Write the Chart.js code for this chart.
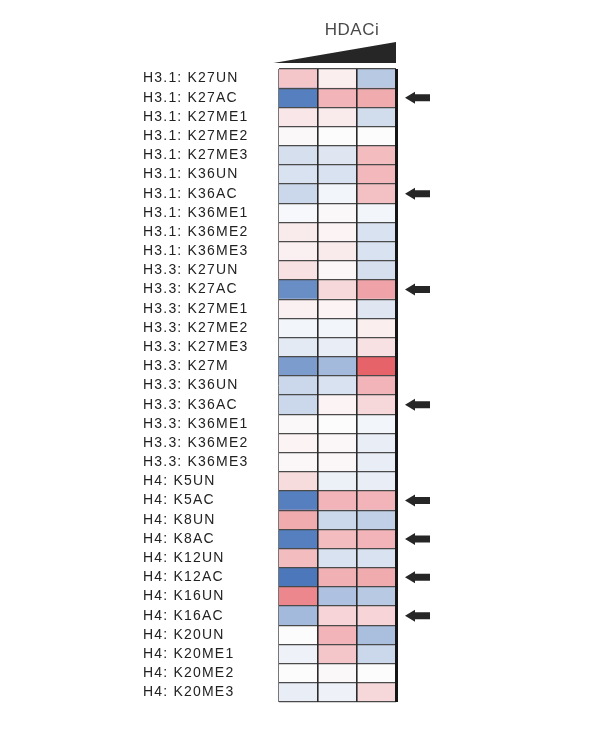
<!DOCTYPE html>
<html>
<head>
<meta charset="utf-8">
<script src="https://cdn.jsdelivr.net/npm/chart.js@4.4.1/dist/chart.umd.min.js"></script>
<style>
  html, body { margin: 0; padding: 0; background: #fff; }
  #wrap { width: 600px; height: 754px; }
</style>
</head>
<body>
<div id="wrap"><canvas id="heatmap"></canvas></div>
<script>
// linhas do heatmap (de cima para baixo)
const marcas = [
  'H3.1: K27UN', 'H3.1: K27AC', 'H3.1: K27ME1', 'H3.1: K27ME2', 'H3.1: K27ME3',
  'H3.1: K36UN', 'H3.1: K36AC', 'H3.1: K36ME1', 'H3.1: K36ME2', 'H3.1: K36ME3',
  'H3.3: K27UN', 'H3.3: K27AC', 'H3.3: K27ME1', 'H3.3: K27ME2', 'H3.3: K27ME3',
  'H3.3: K27M', 'H3.3: K36UN', 'H3.3: K36AC', 'H3.3: K36ME1', 'H3.3: K36ME2',
  'H3.3: K36ME3',
  'H4: K5UN', 'H4: K5AC', 'H4: K8UN', 'H4: K8AC', 'H4: K12UN', 'H4: K12AC',
  'H4: K16UN', 'H4: K16AC', 'H4: K20UN', 'H4: K20ME1', 'H4: K20ME2', 'H4: K20ME3'
];

// valores relativos (-1 azul ... +1 vermelho), uma lista por dose de HDACi
const dose1 = [
  0.30, -0.85, 0.12, 0.02, -0.20, -0.18, -0.25, -0.03, 0.10, 0.07,
  0.15, -0.75, 0.07, -0.05, -0.12, -0.65, -0.25, -0.25, 0.02, 0.05, 0.03,
  0.18, -0.85, 0.45, -0.85, 0.35, -0.90, 0.65, -0.45, 0.00, -0.07, 0.00, -0.10
];
const dose2 = [
  0.08, 0.40, 0.10, 0.00, -0.15, -0.18, -0.05, 0.02, 0.05, 0.10,
  0.03, 0.20, 0.05, -0.05, -0.10, -0.45, -0.18, 0.05, 0.00, 0.03, 0.03,
  -0.08, 0.40, -0.25, 0.35, -0.18, 0.42, -0.40, 0.22, 0.40, 0.30, 0.02, -0.07
];
const dose3 = [
  -0.35, 0.45, -0.22, 0.00, 0.35, 0.38, 0.33, -0.05, -0.18, -0.18,
  -0.20, 0.50, -0.15, 0.08, 0.15, 0.85, 0.40, 0.20, -0.05, -0.10, -0.10,
  -0.10, 0.40, -0.30, 0.40, -0.18, 0.45, -0.35, 0.22, -0.42, -0.25, 0.00, 0.20
];

// linhas marcadas com seta
const setas = [
  'H3.1: K27AC', 'H3.1: K36AC', 'H3.3: K27AC', 'H3.3: K36AC',
  'H4: K5AC', 'H4: K8AC', 'H4: K12AC', 'H4: K16AC'
];

const titulo = 'HDACi';

function cor(v) {
  const branco = [252, 252, 253];
  const alvo = v >= 0 ? [226, 72, 80] : [56, 105, 180];
  const t = Math.min(1, Math.abs(v));
  const c = branco.map((b, i) => Math.round(b + (alvo[i] - b) * t));
  return 'rgb(' + c.join(',') + ')';
}

const decoracao = {
  id: 'decoracao',
  beforeDraw(chart) {
    chart.ctx.letterSpacing = '1.2px';
  },
  afterDraw(chart) {
    const ctx = chart.ctx;
    const area = chart.chartArea;
    const y = chart.scales.y;
    ctx.save();

    // cunha de dose
    ctx.fillStyle = '#262626';
    ctx.beginPath();
    ctx.moveTo(area.left - 5, area.top - 6);
    ctx.lineTo(area.right, area.top - 27);
    ctx.lineTo(area.right, area.top - 6);
    ctx.closePath();
    ctx.fill();

    // titulo
    ctx.letterSpacing = '0.5px';
    ctx.fillStyle = '#4a4a4a';
    ctx.font = '17px "Liberation Sans", Arial, sans-serif';
    ctx.textAlign = 'center';
    ctx.textBaseline = 'alphabetic';
    ctx.fillText(titulo, area.right - 44, area.top - 34);

    // setas
    ctx.fillStyle = '#262626';
    setas.forEach(function(nome) {
      const py = y.getPixelForValue(marcas.indexOf(nome));
      const x0 = area.right + 9;
      ctx.beginPath();
      ctx.moveTo(x0, py);
      ctx.lineTo(x0 + 10, py - 6);
      ctx.lineTo(x0 + 10, py - 3.5);
      ctx.lineTo(x0 + 25, py - 3.5);
      ctx.lineTo(x0 + 25, py + 3.5);
      ctx.lineTo(x0 + 10, py + 3.5);
      ctx.lineTo(x0 + 10, py + 6);
      ctx.closePath();
      ctx.fill();
    });
    ctx.restore();
  }
};

const ctx = document.getElementById('heatmap').getContext('2d');
const heatmap = new Chart(ctx, {
  type: 'bar',
  data: {
    labels: marcas,
    datasets: [dose1, dose2, dose3].map(function(vals, i) {
      return {
        label: 'Dose ' + (i + 1),
        data: vals.map(function() { return [i, i + 1]; }),
        backgroundColor: vals.map(cor),
        borderWidth: 0,
        barPercentage: 1,
        categoryPercentage: 1,
        grouped: false
      };
    })
  },
  options: {
    indexAxis: 'y',
    responsive: true,
    maintainAspectRatio: false,
    animation: false,
    devicePixelRatio: 1,
    layout: { padding: { left: 143, right: 204, top: 69, bottom: 52 } },
    plugins: { legend: { display: false }, tooltip: { enabled: false } },
    scales: {
      x: {
        type: 'linear',
        min: 0,
        max: 3,
        ticks: { display: false, stepSize: 1 },
        border: { display: false },
        grid: {
          z: 2,
          drawTicks: false,
          color: function(c) {
            if (c.tick.value === 0) return '#777';
            return c.tick.value === 3 ? '#151515' : '#2a2a2a';
          },
          lineWidth: function(c) {
            if (c.tick.value === 0) return 1;
            return c.tick.value === 3 ? 3 : 1.6;
          }
        },
        afterFit: function(s) { s.height = 0; }
      },
      y: {
        ticks: {
          crossAlign: 'far',
          autoSkip: false,
          padding: 0,
          color: '#222',
          font: { family: '"Liberation Sans", Arial, sans-serif', size: 14 }
        },
        border: { display: false },
        grid: { z: 1, drawTicks: false, offset: true, color: '#4a4a4a', lineWidth: 1.3 },
        afterFit: function(s) { s.width = 135.5; }
      }
    }
  },
  plugins: [decoracao]
});

document.getElementById('heatmap').addEventListener('contextmenu', function(event) {
  event.preventDefault();
});
</script>
</body>
</html>
